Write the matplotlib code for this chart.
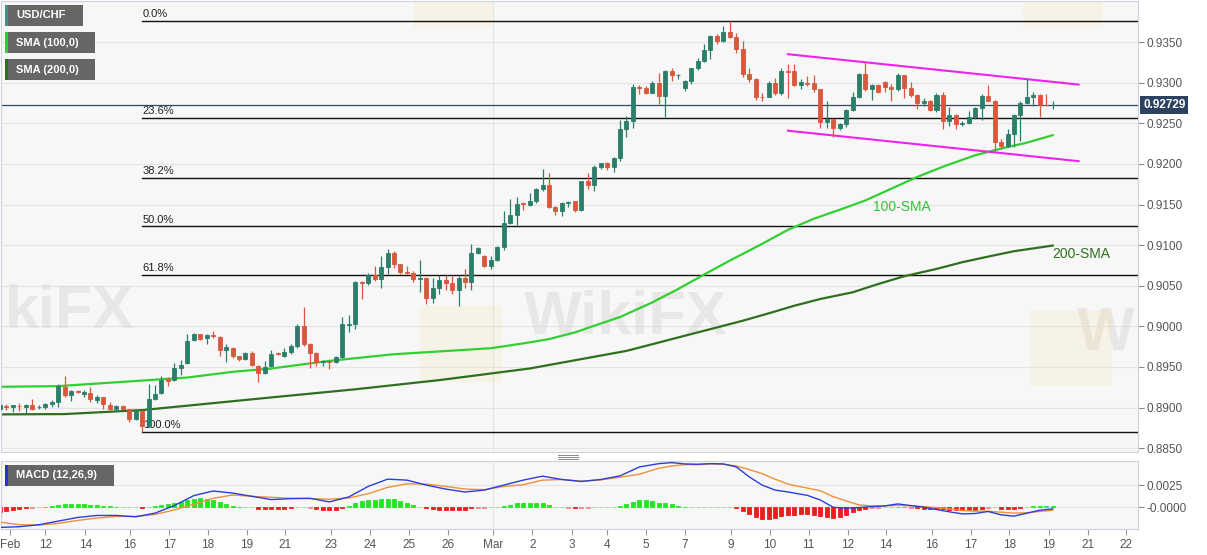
import numpy as np
import matplotlib
matplotlib.use("Agg")
import matplotlib.pyplot as plt
from matplotlib.patches import Rectangle, FancyBboxPatch
from matplotlib.lines import Line2D
import matplotlib.transforms as mtransforms

plt.rcParams['font.family'] = ['Liberation Sans', 'DejaVu Sans']

# USD/CHF 4H candles
opens = [0.88977, 0.89018, 0.89002, 0.89018, 0.89002, 0.89035, 0.89002, 0.89002, 0.89043, 0.89068,
         0.89256, 0.89158, 0.89203, 0.89166, 0.89178, 0.89092, 0.89125, 0.89035, 0.88986, 0.89014,
         0.88977, 0.88855, 0.88961, 0.88773, 0.89109, 0.89174, 0.89346, 0.89338, 0.89493, 0.89543,
         0.89837, 0.89903, 0.89862, 0.89899, 0.89870, 0.89706, 0.89735, 0.89633, 0.89600, 0.89674,
         0.89518, 0.89428, 0.89518, 0.89670, 0.89637, 0.89682, 0.89756, 0.90001, 0.89788, 0.89674,
         0.89555, 0.89575, 0.89567, 0.89625, 0.90022, 0.90034, 0.90542, 0.90534, 0.90632, 0.90583,
         0.90730, 0.90906, 0.90763, 0.90669, 0.90656, 0.90583, 0.90591, 0.90353, 0.90472, 0.90575,
         0.90534, 0.90444, 0.90599, 0.90546, 0.90906, 0.90861, 0.90738, 0.90812, 0.90976, 0.91275,
         0.91377, 0.91521, 0.91500, 0.91541, 0.91688, 0.91746, 0.91475, 0.91426, 0.91520, 0.91541,
         0.91435, 0.91787, 0.91738, 0.91967, 0.92008, 0.91967, 0.92069, 0.92426, 0.92524, 0.92941,
         0.92933, 0.92876, 0.92999, 0.92835, 0.93146, 0.93093, 0.92933, 0.93023, 0.93179, 0.93269,
         0.93408, 0.93572, 0.93515, 0.93621, 0.93564, 0.93421, 0.93113, 0.93040, 0.92827, 0.92827,
         0.92999, 0.92868, 0.93146, 0.93146, 0.92974, 0.92995, 0.92991, 0.92917, 0.92511, 0.92556,
         0.92442, 0.92491, 0.92659, 0.92827, 0.93113, 0.92921, 0.92974, 0.93003, 0.92950, 0.92917,
         0.93089, 0.92933, 0.92843, 0.92745, 0.92769, 0.92663, 0.92851, 0.92532, 0.92606, 0.92491,
         0.92507, 0.92573, 0.92688, 0.92835, 0.92778, 0.92266, 0.92225, 0.92368, 0.92606, 0.92753,
         0.92819, 0.92851, 0.92728, 0.92720]
highs = [0.89072, 0.89043, 0.89035, 0.89051, 0.89043, 0.89100, 0.89027, 0.89059, 0.89092, 0.89289,
         0.89391, 0.89215, 0.89215, 0.89215, 0.89248, 0.89149, 0.89133, 0.89068, 0.89027, 0.89035,
         0.88986, 0.88977, 0.88969, 0.89289, 0.89276, 0.89387, 0.89379, 0.89543, 0.89584, 0.89905,
         0.89919, 0.89911, 0.89911, 0.89944, 0.89878, 0.89780, 0.89747, 0.89641, 0.89686, 0.89694,
         0.89526, 0.89575, 0.89706, 0.89690, 0.89739, 0.89788, 0.90026, 0.90239, 0.89796, 0.89682,
         0.89584, 0.89584, 0.89633, 0.90116, 0.90141, 0.90558, 0.90558, 0.90656, 0.90738, 0.90861,
         0.90951, 0.90927, 0.90771, 0.90747, 0.90681, 0.90812, 0.90607, 0.90599, 0.90632, 0.90632,
         0.90632, 0.90620, 0.90706, 0.91013, 0.90976, 0.90878, 0.90861, 0.90992, 0.91422, 0.91566,
         0.91590, 0.91537, 0.91639, 0.91705, 0.91934, 0.91889, 0.91484, 0.91533, 0.91541, 0.91549,
         0.91795, 0.91885, 0.91991, 0.92016, 0.92024, 0.92082, 0.92540, 0.92589, 0.92982, 0.92974,
         0.92958, 0.93015, 0.93122, 0.93154, 0.93187, 0.93113, 0.93032, 0.93187, 0.93302, 0.93474,
         0.93588, 0.93605, 0.93703, 0.93760, 0.93613, 0.93515, 0.93187, 0.93064, 0.92868, 0.93015,
         0.93064, 0.93187, 0.93228, 0.93236, 0.93044, 0.93085, 0.93089, 0.92925, 0.92778, 0.92565,
         0.92499, 0.92671, 0.92880, 0.93122, 0.93253, 0.92982, 0.92982, 0.93015, 0.92982, 0.93122,
         0.93097, 0.93003, 0.92860, 0.92810, 0.92786, 0.92868, 0.92880, 0.92696, 0.92614, 0.92532,
         0.92647, 0.92696, 0.92860, 0.92974, 0.92786, 0.92307, 0.92425, 0.92614, 0.92778, 0.93040,
         0.92880, 0.92860, 0.92860, 0.92769]
lows = [0.88961, 0.88969, 0.88949, 0.88961, 0.88928, 0.88969, 0.88977, 0.88986, 0.89010, 0.89010,
        0.89133, 0.89084, 0.89174, 0.89125, 0.89072, 0.89059, 0.88977, 0.88969, 0.88961, 0.88977,
        0.88822, 0.88846, 0.88700, 0.88756, 0.89092, 0.89166, 0.89264, 0.89330, 0.89399, 0.89534,
        0.89821, 0.89829, 0.89788, 0.89862, 0.89633, 0.89567, 0.89608, 0.89575, 0.89584, 0.89518,
        0.89321, 0.89412, 0.89502, 0.89645, 0.89625, 0.89665, 0.89731, 0.89764, 0.89493, 0.89510,
        0.89510, 0.89481, 0.89543, 0.89608, 0.89932, 0.89973, 0.90341, 0.90509, 0.90558, 0.90476,
        0.90648, 0.90722, 0.90640, 0.90648, 0.90546, 0.90423, 0.90280, 0.90292, 0.90403, 0.90444,
        0.90403, 0.90255, 0.90476, 0.90444, 0.90886, 0.90730, 0.90706, 0.90804, 0.90943, 0.91262,
        0.91246, 0.91435, 0.91484, 0.91525, 0.91672, 0.91459, 0.91377, 0.91361, 0.91467, 0.91410,
        0.91426, 0.91688, 0.91672, 0.91934, 0.91926, 0.91901, 0.92032, 0.92327, 0.92442, 0.92860,
        0.92860, 0.92868, 0.92737, 0.92573, 0.93015, 0.93044, 0.92901, 0.92982, 0.93154, 0.93261,
        0.93290, 0.93474, 0.93498, 0.93548, 0.93367, 0.93073, 0.93007, 0.92786, 0.92769, 0.92819,
        0.92851, 0.92851, 0.92810, 0.92962, 0.92921, 0.92962, 0.92880, 0.92442, 0.92442, 0.92335,
        0.92417, 0.92458, 0.92647, 0.92810, 0.92900, 0.92786, 0.92868, 0.92880, 0.92769, 0.92900,
        0.92810, 0.92819, 0.92675, 0.92716, 0.92647, 0.92638, 0.92429, 0.92470, 0.92429, 0.92466,
        0.92491, 0.92548, 0.92540, 0.92769, 0.92163, 0.92184, 0.92212, 0.92204, 0.92286, 0.92737,
        0.92716, 0.92581, 0.92716, 0.92675]
closes = [0.89031, 0.89006, 0.89027, 0.89014, 0.89035, 0.88986, 0.89010, 0.89043, 0.89068, 0.89264,
          0.89158, 0.89207, 0.89186, 0.89190, 0.89100, 0.89133, 0.89043, 0.88986, 0.89018, 0.88986,
          0.88863, 0.88961, 0.88773, 0.89109, 0.89166, 0.89338, 0.89330, 0.89493, 0.89530, 0.89821,
          0.89911, 0.89850, 0.89899, 0.89878, 0.89706, 0.89747, 0.89633, 0.89592, 0.89674, 0.89526,
          0.89428, 0.89502, 0.89657, 0.89657, 0.89682, 0.89756, 0.90001, 0.89788, 0.89674, 0.89559,
          0.89575, 0.89559, 0.89625, 0.90026, 0.90034, 0.90542, 0.90530, 0.90636, 0.90583, 0.90730,
          0.90906, 0.90763, 0.90669, 0.90656, 0.90583, 0.90591, 0.90353, 0.90472, 0.90566, 0.90534,
          0.90444, 0.90599, 0.90546, 0.90906, 0.90960, 0.90738, 0.90812, 0.90976, 0.91275, 0.91377,
          0.91508, 0.91508, 0.91541, 0.91688, 0.91746, 0.91475, 0.91426, 0.91516, 0.91533, 0.91435,
          0.91787, 0.91738, 0.91967, 0.92008, 0.91967, 0.92069, 0.92426, 0.92524, 0.92941, 0.92933,
          0.92876, 0.92999, 0.92835, 0.93146, 0.93097, 0.93101, 0.93023, 0.93179, 0.93269, 0.93408,
          0.93572, 0.93515, 0.93621, 0.93564, 0.93421, 0.93113, 0.93040, 0.92827, 0.92819, 0.92991,
          0.92868, 0.93146, 0.93130, 0.92974, 0.93003, 0.92986, 0.92917, 0.92511, 0.92556, 0.92442,
          0.92491, 0.92659, 0.92827, 0.93113, 0.92921, 0.92974, 0.92880, 0.92950, 0.92917, 0.93089,
          0.92933, 0.92843, 0.92745, 0.92769, 0.92663, 0.92851, 0.92532, 0.92606, 0.92491, 0.92507,
          0.92573, 0.92688, 0.92835, 0.92778, 0.92266, 0.92225, 0.92368, 0.92606, 0.92753, 0.92819,
          0.92851, 0.92728, 0.92724, 0.92729]
last_price = 0.92729

# moving averages (candle index, value)
sma100_idx = [0, 9, 23, 29, 36, 42, 51, 61, 71, 76, 81, 85, 89, 92, 96, 101, 105, 109, 113, 118,
              122, 126, 130, 134, 138, 142, 146, 151, 155, 159, 163]
sma100 = [0.89256, 0.89264, 0.89338, 0.89370, 0.89440, 0.89481, 0.89575, 0.89657, 0.89706, 0.89731,
          0.89790, 0.89843, 0.89925, 0.90007, 0.90115, 0.90295, 0.90460, 0.90637, 0.90810, 0.91016,
          0.91189, 0.91325, 0.91435, 0.91551, 0.91695, 0.91839, 0.91966, 0.92107, 0.92189, 0.92262,
          0.92354]
sma200_idx = [0, 10, 22, 31, 42, 55, 68, 82, 97, 102, 106, 110, 115, 119, 123, 127, 132, 136, 140,
              145, 149, 153, 157, 163]
sma200 = [0.88916, 0.88920, 0.88969, 0.89039, 0.89125, 0.89225, 0.89338, 0.89481, 0.89698, 0.89801,
          0.89884, 0.89966, 0.90069, 0.90160, 0.90254, 0.90337, 0.90419, 0.90522, 0.90617, 0.90707,
          0.90790, 0.90859, 0.90925, 0.90995]

# fibonacci retracement
fib_high = 0.9376
fib_low = 0.8870
fib_start = 22
fib_ratios = [0.0, 0.236, 0.382, 0.5, 0.618, 1.0]
fib_labels = ['0.0%', '23.6%', '38.2%', '50.0%', '61.8%', '100.0%']

# falling channel
chan_x = [122, 167]
chan_upper = [0.93351, 0.92977]
chan_lower = [0.92409, 0.92034]

# MACD (12,26,9), values x 1e-4
macd_idx = [0, 3, 6, 9, 12, 15, 18, 21, 24, 27, 30, 33, 36, 39, 42, 45, 48, 51, 54, 57,
            60, 63, 66, 69, 72, 75, 78, 81, 84, 87, 90, 93, 96, 99, 102, 104, 106, 108, 110, 112,
            114, 116, 118, 120, 122, 125, 127, 129, 131, 133, 135, 137, 139, 141, 143, 145, 147, 149, 151, 153,
            155, 157, 159, 161, 163]
macd_line = [-22.8, -22.0, -19.8, -15.7, -11.6, -9.3, -9.3, -10.8, -6.7, 1.9,
             13.1, 18.3, 16.0, 12.3, 8.6, 9.7, 10.1, 6.0, 11.6, 23.5,
             31.7, 30.6, 25.0, 20.5, 17.2, 19.4, 25.0, 30.6, 35.1, 31.3,
             29.1, 31.3, 35.4, 45.5, 49.2, 50.4, 48.9, 48.5, 49.2, 48.9,
             45.5, 34.3, 25.0, 19.4, 17.2, 13.4, 8.2, 0.0, -1.1, -0.4,
             0.7, 1.5, 3.7, 1.9, 0.0, -2.6, -5.2, -7.5, -7.1, -4.8,
             -8.6, -10.1, -6.7, -3.4, -1.9]
signal_line = [-16.8, -19.8, -20.1, -18.3, -14.9, -12.3, -10.4, -10.4, -8.2, -3.0,
               3.4, 10.1, 13.8, 12.3, 11.2, 10.1, 9.7, 9.0, 10.4, 15.3,
               22.4, 26.5, 26.1, 23.5, 20.5, 19.8, 23.5, 25.4, 30.6, 31.3,
               29.5, 30.8, 33.9, 37.3, 44.0, 46.6, 48.1, 48.1, 48.9, 48.5,
               46.6, 42.5, 38.0, 31.7, 26.1, 21.6, 18.6, 11.9, 7.1, 2.6,
               1.5, 1.5, 2.2, 1.5, 0.7, -0.4, -1.9, -3.7, -4.5, -4.5,
               -5.6, -6.7, -6.3, -4.8, -3.4]
macd_hist = [-5.2, -4.5, -3.0, -1.9, -1.1, -0.4, 0.0, 0.7, 1.9, 3.0,
             3.4, 3.7, 3.7, 3.4, 3.0, 2.6, 1.9, 1.1, 0.7, 0.4,
             0.0, 0.0, -0.7, 0.4, 1.5, 2.6, 3.7, 4.8, 6.3, 7.8,
             9.3, 10.1, 9.3, 7.8, 5.6, 3.7, 1.9, 0.7, 0.4, 0.0,
             -1.5, -2.2, -2.2, -1.9, -1.5, -0.7, 0.0, 0.4, -0.4, -1.9,
             -2.6, -3.0, -2.6, -0.7, 1.1, 4.8, 6.7, 8.2, 8.6, 9.0,
             9.3, 9.0, 7.5, 4.5, 2.2, 0.4, -1.1, -2.2, -2.6, -3.0,
             -3.4, -3.7, -3.4, -1.1, -0.4, -0.4, 0.0, 0.4, 1.5, 3.0,
             4.5, 5.2, 5.2, 5.2, 4.5, 2.2, 0.4, 0.0, -0.4, -1.1,
             -0.4, -0.4, 0.0, 0.4, 0.4, 0.4, 1.5, 3.7, 6.3, 8.2,
             8.2, 7.5, 5.2, 4.5, 3.7, 1.9, 0.7, 0.4, 0.4, 0.4,
             0.4, 0.4, 0.4, 0.0, -1.1, -4.5, -8.2, -11.2, -13.1, -13.1,
             -12.3, -10.4, -9.0, -8.6, -8.2, -8.2, -9.0, -10.4, -11.2, -11.9,
             -11.2, -9.3, -5.6, -3.0, -1.5, -0.4, -0.4, 0.0, 0.0, 0.7,
             0.7, -0.4, -1.1, -1.9, -2.2, -2.2, -2.2, -2.6, -2.6, -2.6,
             -3.0, -2.6, -1.5, -0.4, 0.0, -1.5, -2.2, -2.2, -1.1, 0.4,
             1.1, 1.5, 1.5, 1.5]

# x axis (day labels at candle index positions)
tick_pos = [1.5, 7.0, 13.2, 20.1, 26.2, 32.2, 38.2, 44.1, 51.2, 57.3, 63.3, 69.3, 76.3, 82.4, 88.5,
            94.0, 100.0, 106.0, 113.2, 119.2, 125.2, 131.3, 137.2, 144.3, 150.3, 156.3, 162.4, 168.4, 174.3]
tick_labels = ['Feb', '12', '14', '16', '17', '18', '19', '21', '23', '24', '25', '26', 'Mar', '2', '3',
               '4', '5', '7', '9', '10', '11', '12', '14', '16', '17', '18', '19', '21', '22']

W, H = 1207, 555
fig = plt.figure(figsize=(W / 100, H / 100), dpi=100)
fig.patch.set_facecolor('white')

ax = fig.add_axes([1 / W, 1 - 452 / H, 1137 / W, 451 / H])
ax2 = fig.add_axes([1 / W, 1 - 529 / H, 1137 / W, 68 / H])

bg = '#f7f7f8'
grid_c = '#e4e4e4'
for a in (ax, ax2):
    a.set_facecolor(bg)
    for s in a.spines.values():
        s.set_color('#cdd2df')
        s.set_linewidth(0.8)
    a.set_xlim(0.15, 176.2)
    a.axvline(76.3, color='#e4e4e4', lw=0.8, zorder=0.6)

# ---- main panel ----
o = np.array(opens); h = np.array(highs); l = np.array(lows); c = np.array(closes)
x = np.arange(len(c))
up = c >= o
col = np.where(up, '#2b7f69', '#d9573b')

ax.set_ylim(0.88453, 0.94006)
yt = np.arange(0.8850, 0.93501, 0.005)
ax.set_yticks(yt)
ax.set_yticklabels(['%.4f' % v for v in yt])
ax.yaxis.tick_right()
ax.tick_params(axis='y', colors='#888888', labelcolor='#555555', labelsize=8.5, length=4, width=0.8, pad=2)
ax.tick_params(axis='x', bottom=False, labelbottom=False)
ax.grid(axis='y', color=grid_c, lw=0.8, zorder=0.5)
ax.set_axisbelow(True)

# watermarks (only the parts that show inside the price panel)
wm_kw = dict(fontsize=44, fontweight='bold', color='#dcd9d5', alpha=0.5, zorder=0.7,
             transform=ax.transAxes, va='center')
ax.text(0.003, 0.31, 'kiFX', ha='left', **wm_kw)
ax.text(0.549, 0.297, 'WikiFX', ha='center', **wm_kw)
ax.text(0.997, 0.26, 'W', ha='right', **wm_kw)
for (px, py, sz) in [(425, 308, 72), (1035, 312, 72), (418, -45, 70), (1028, -45, 70)]:
    ax.add_patch(FancyBboxPatch((px / W, 1 - (py + sz) / H), sz / W, sz / H,
                                boxstyle='round,pad=0.004', transform=fig.transFigure,
                                facecolor='#f3e2a6', edgecolor='none', alpha=0.22, zorder=0.7))

# fibonacci levels
for r, lab in zip(fib_ratios, fib_labels):
    lvl = fib_high - r * (fib_high - fib_low)
    ax.plot([fib_start, 176.2], [lvl, lvl], color='#111111', lw=1.0, zorder=2)
    ax.text(fib_start + 0.1, lvl + 0.00045, lab, fontsize=8, color='#222222', zorder=2)

# last price line
ax.axhline(last_price, color='#34495e', lw=0.9, zorder=2)
trans = mtransforms.blended_transform_factory(ax.transAxes, ax.transData)
ax.text(1.0045, last_price, '%.5f' % last_price, transform=trans, fontsize=8.5, fontweight='bold',
        color='white', va='center', ha='left', clip_on=False, zorder=6,
        bbox=dict(boxstyle='square,pad=0.25', facecolor='#2c4260', edgecolor='none'))

# moving averages
ax.plot(sma200_idx, sma200, color='#2f6f20', lw=1.6, zorder=2.5)
ax.plot(sma100_idx, sma100, color='#31cf31', lw=1.6, zorder=2.5)
ax.text(135.1, 0.91426, '100-SMA', fontsize=10, color='#33c433', va='baseline', zorder=5)
ax.text(163.0, 0.90838, '200-SMA', fontsize=10, color='#2f6f20', va='baseline', zorder=5)

# channel
ax.plot(chan_x, chan_upper, color='#ee22ee', lw=1.5, zorder=2.6)
ax.plot(chan_x, chan_lower, color='#ee22ee', lw=1.5, zorder=2.6)

# candles
ax.vlines(x, l, h, colors=col, lw=0.9, zorder=3)
ax.bar(x, c - o, bottom=o, width=0.62, color=col, edgecolor=col, linewidth=0.6, zorder=4)

# ---- MACD panel ----
ax2.set_ylim(-0.00246, 0.00522)
ax2.set_yticks([0.0, 0.0025])
ax2.set_yticklabels(['-0.0000', '0.0025'])
ax2.yaxis.tick_right()
ax2.tick_params(axis='y', colors='#888888', labelcolor='#555555', labelsize=8.5, length=4, width=0.8, pad=2)
ax2.grid(axis='y', color=grid_c, lw=0.8, zorder=0.5)
ax2.set_axisbelow(True)
ax2.set_xticks(tick_pos)
ax2.set_xticklabels(tick_labels)
ax2.tick_params(axis='x', colors='#999999', labelcolor='#555555', labelsize=8.5, length=4, width=0.8, pad=3)

hv = np.array(macd_hist) * 1e-4
hcol = []
for v in macd_hist:
    if v >= 0:
        hcol.append('#22e622' if v >= 0.6 else '#8fe38f')
    else:
        hcol.append('#ee1c1c' if v <= -0.6 else '#e98b8b')
ax2.bar(np.arange(len(hv)), hv, width=0.62, color=hcol, edgecolor=hcol, linewidth=0.6, zorder=2)
ax2.plot(macd_idx, np.array(signal_line) * 1e-4, color='#f0903a', lw=1.0, zorder=3)
ax2.plot(macd_idx, np.array(macd_line) * 1e-4, color='#2a3ed8', lw=1.0, zorder=3)

# ---- legend boxes ----
def tag(x0, y0, w, h, text, strip):
    fig.patches.append(Rectangle((x0 / W, 1 - (y0 + h) / H), w / W, h / H, transform=fig.transFigure,
                                 facecolor='#666666', edgecolor='none', zorder=10))
    fig.patches.append(Rectangle((x0 / W, 1 - (y0 + h) / H), 2.5 / W, h / H, transform=fig.transFigure,
                                 facecolor=strip, edgecolor='none', zorder=11))
    fig.text((x0 + 11) / W, 1 - (y0 + h / 2) / H, text, color='white', fontsize=8, fontweight='bold',
             va='center', ha='left', zorder=12)

tag(5, 5, 78, 21, 'USD/CHF', '#3f8f8a')
tag(5, 32, 90, 21, 'SMA (100,0)', '#33cc33')
tag(5, 59, 90, 21, 'SMA (200,0)', '#2f6f20')
tag(5, 465, 109, 21, 'MACD (12,26,9)', '#2233cc')

# panel resize handle
for yy in (455, 457, 459):
    fig.add_artist(Line2D([558 / W, 578 / W], [1 - yy / H, 1 - yy / H], color='#888888', lw=0.7))

fig.savefig('out.png', dpi=100)
